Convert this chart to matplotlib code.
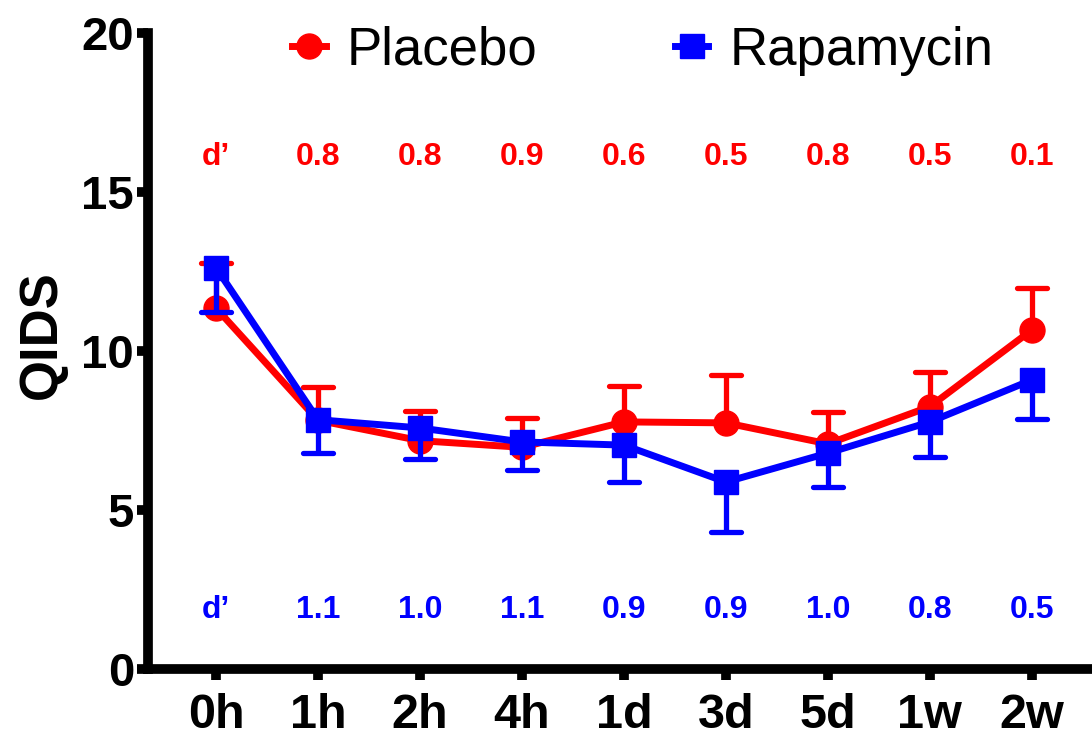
import matplotlib
matplotlib.use("Agg")
import matplotlib.pyplot as plt
from matplotlib.lines import Line2D

# =========================
# Data
# =========================
timepoints = ["0h", "1h", "2h", "4h", "1d", "3d", "5d", "1w", "2w"]

placebo_mean = [11.35, 7.82, 7.18, 6.97, 7.77, 7.74, 7.08, 8.25, 10.66]
placebo_upper = [12.77, 8.88, 8.11, 7.89, 8.9, 9.26, 8.08, 9.35, 11.98]

rapa_mean = [12.62, 7.84, 7.58, 7.14, 7.04, 5.88, 6.79, 7.77, 9.09]
rapa_lower = [11.22, 6.79, 6.6, 6.26, 5.88, 4.31, 5.72, 6.67, 7.86]

placebo_d = ["d\u2019", "0.8", "0.8", "0.9", "0.6", "0.5", "0.8", "0.5", "0.1"]
rapa_d = ["d\u2019", "1.1", "1.0", "1.1", "0.9", "0.9", "1.0", "0.8", "0.5"]

RED = "#ff0000"
BLUE = "#0000ff"

plt.rcParams["font.family"] = ["Liberation Sans", "DejaVu Sans"]

fig = plt.figure(figsize=(10.92, 7.37), dpi=100)
ax = fig.add_axes([0.1355, 0.0923, 0.8645, 0.8629])

x = list(range(len(timepoints)))
cap = 0.15

# Placebo: line, upper error bars
ax.vlines(x, placebo_mean, placebo_upper, color=RED, lw=3.8, zorder=2)
ax.hlines(placebo_upper, [i - cap for i in x], [i + cap for i in x],
          color=RED, lw=3.8, capstyle="round", zorder=2)
ax.plot(x, placebo_mean, color=RED, lw=5, marker="o", markersize=18,
        zorder=3, solid_capstyle="round")

# Rapamycin: line, lower error bars
ax.vlines(x, rapa_lower, rapa_mean, color=BLUE, lw=3.8, zorder=4)
ax.hlines(rapa_lower, [i - cap for i in x], [i + cap for i in x],
          color=BLUE, lw=3.8, capstyle="round", zorder=4)
ax.plot(x, rapa_mean, color=BLUE, lw=5, marker="s", markersize=17,
        zorder=5, solid_capstyle="round")

# d' effect sizes
for i in x:
    ax.text(i, 16.1, placebo_d[i], color=RED, fontsize=23, fontweight="bold",
            ha="center", va="center")
    ax.text(i, 1.85, rapa_d[i], color=BLUE, fontsize=23, fontweight="bold",
            ha="center", va="center")

# Axes styling
ax.set_xlim(-0.667, 8.59)
ax.set_ylim(0, 20)
ax.set_xticks(x)
ax.set_xticklabels(timepoints)
ax.set_yticks([0, 5, 10, 15, 20])
ax.spines["top"].set_visible(False)
ax.spines["right"].set_visible(False)
for side in ["left", "bottom"]:
    ax.spines[side].set_linewidth(7)
    ax.spines[side].set_capstyle("projecting")
ax.tick_params(axis="both", direction="out", length=8, width=7)
ax.tick_params(axis="y", pad=2, labelsize=34)
ax.tick_params(axis="x", pad=9, labelsize=35)
for lab in ax.get_xticklabels() + ax.get_yticklabels():
    lab.set_fontweight("bold")
ax.set_ylabel("QIDS", fontsize=38, fontweight="bold")
ax.yaxis.set_label_coords(-0.086, 0.526)
ax.patch.set_alpha(0)

# Legend
handles = [
    Line2D([], [], color=RED, lw=5, marker="o", markersize=18),
    Line2D([], [], color=BLUE, lw=5, marker="s", markersize=17),
]
ax.legend(handles, ["Placebo", "Rapamycin"], loc="upper left",
          bbox_to_anchor=(0.13, 1.045), ncol=2, frameon=False,
          fontsize=38, handlelength=0.64, handletextpad=0.4,
          columnspacing=2.6, borderaxespad=0)

fig.savefig("out.png", dpi=100)
